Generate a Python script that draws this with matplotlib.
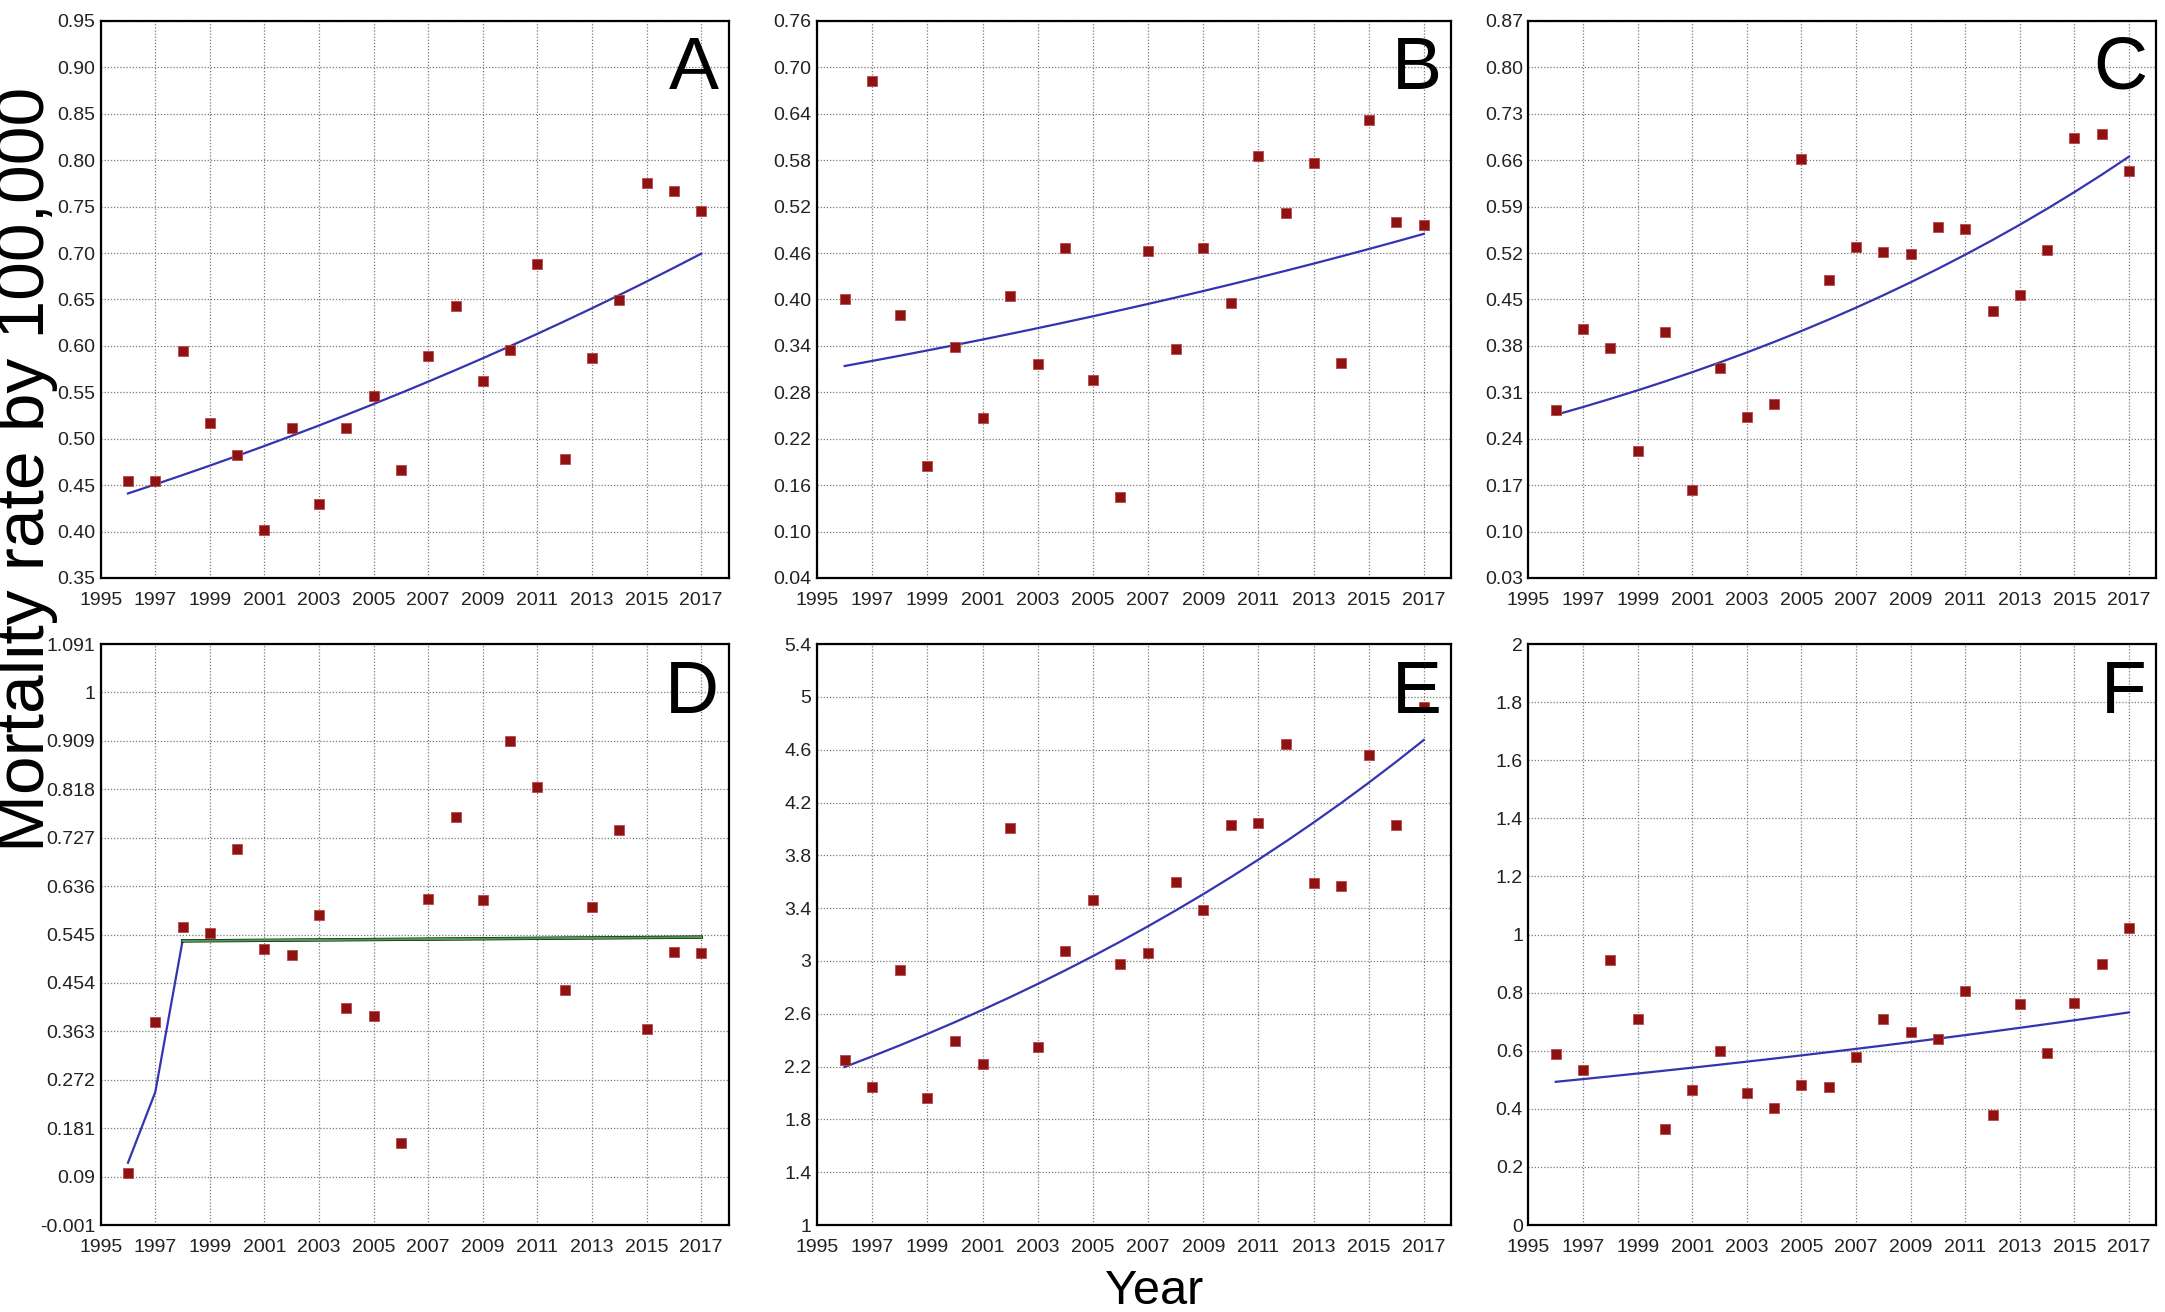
import numpy as np
import matplotlib
matplotlib.use("Agg")
import matplotlib.pyplot as plt

years = np.arange(1996, 2018)
xtick_years = list(range(1995, 2018, 2))

rate_A = [0.454, 0.454, 0.594, 0.517, 0.482, 0.402, 0.512, 0.430, 0.512, 0.546, 0.466,
          0.589, 0.643, 0.562, 0.596, 0.688, 0.478, 0.587, 0.649, 0.776, 0.767, 0.745]
rate_B = [0.400, 0.682, 0.380, 0.185, 0.338, 0.247, 0.405, 0.317, 0.466, 0.296, 0.144,
          0.463, 0.336, 0.466, 0.395, 0.585, 0.512, 0.577, 0.318, 0.632, 0.500, 0.496]
rate_C = [0.283, 0.406, 0.377, 0.222, 0.401, 0.162, 0.346, 0.273, 0.293, 0.662, 0.479,
          0.529, 0.522, 0.519, 0.560, 0.556, 0.433, 0.457, 0.524, 0.693, 0.700, 0.644]
rate_D = [0.097, 0.381, 0.560, 0.548, 0.705, 0.517, 0.507, 0.581, 0.407, 0.391, 0.153,
          0.612, 0.766, 0.610, 0.909, 0.822, 0.441, 0.596, 0.742, 0.368, 0.513, 0.510]
rate_E = [2.247, 2.049, 2.934, 1.959, 2.395, 2.216, 4.004, 2.352, 3.076, 3.460, 2.974,
          3.058, 3.599, 3.389, 4.026, 4.048, 4.645, 3.593, 3.565, 4.558, 4.026, 4.923]
rate_F = [0.590, 0.534, 0.911, 0.710, 0.330, 0.465, 0.599, 0.454, 0.403, 0.481, 0.475,
          0.579, 0.710, 0.665, 0.641, 0.805, 0.379, 0.760, 0.593, 0.766, 0.897, 1.023]

# joinpoint segments: (first year, last year, fitted value at first year, APC %)
seg_A = [(1996, 2017, 0.441, 2.22)]
seg_B = [(1996, 2017, 0.314, 2.09)]
seg_C = [(1996, 2017, 0.276, 4.28)]
seg_D = [(1996, 1998, 0.116, 114.4), (1998, 2017, 0.533, 0.07)]
seg_E = [(1996, 2017, 2.197, 3.66)]
seg_F = [(1996, 2017, 0.493, 1.90)]

yticks_A = ["0.35", "0.40", "0.45", "0.50", "0.55", "0.60", "0.65", "0.70", "0.75", "0.80", "0.85", "0.90", "0.95"]
yticks_B = ["0.04", "0.10", "0.16", "0.22", "0.28", "0.34", "0.40", "0.46", "0.52", "0.58", "0.64", "0.70", "0.76"]
yticks_C = ["0.03", "0.10", "0.17", "0.24", "0.31", "0.38", "0.45", "0.52", "0.59", "0.66", "0.73", "0.80", "0.87"]
yticks_D = ["-0.001", "0.09", "0.181", "0.272", "0.363", "0.454", "0.545", "0.636", "0.727", "0.818", "0.909", "1", "1.091"]
yticks_E = ["1", "1.4", "1.8", "2.2", "2.6", "3", "3.4", "3.8", "4.2", "4.6", "5", "5.4"]
yticks_F = ["0", "0.2", "0.4", "0.6", "0.8", "1", "1.2", "1.4", "1.6", "1.8", "2"]

panels = [
    ("A", rate_A, seg_A, yticks_A),
    ("B", rate_B, seg_B, yticks_B),
    ("C", rate_C, seg_C, yticks_C),
    ("D", rate_D, seg_D, yticks_D),
    ("E", rate_E, seg_E, yticks_E),
    ("F", rate_F, seg_F, yticks_F),
]

narrow = ["Liberation Sans Narrow", "Liberation Sans", "DejaVu Sans"]
sans = ["Liberation Sans", "DejaVu Sans"]

fig = plt.figure(figsize=(21.65, 13.12), dpi=100)

lefts = [0.0465, 0.3774, 0.7060]
widths = [0.290, 0.293, 0.290]
bottoms = [0.5595, 0.0663]
heights = [0.4245, 0.4428]

for i, (letter, rate, segs, ylabels) in enumerate(panels):
    row, col = divmod(i, 3)
    ax = fig.add_axes([lefts[col], bottoms[row], widths[col], heights[row]])

    ypos = [float(s) for s in ylabels]
    ax.set_xlim(1995, 2018)
    ax.set_ylim(ypos[0], ypos[-1])
    ax.set_xticks(xtick_years)
    ax.set_xticklabels([str(y) for y in xtick_years], family=narrow, fontsize=14, color="#222222")
    ax.set_yticks(ypos)
    ax.set_yticklabels(ylabels, family=narrow, fontsize=14, color="#222222")
    ax.tick_params(axis="both", length=0)
    ax.tick_params(axis="x", pad=10)
    ax.tick_params(axis="y", pad=4)
    ax.grid(True, color="#7a7a7a", linestyle=(0, (1, 1.5)), linewidth=0.9)
    ax.set_axisbelow(True)
    for sp in ax.spines.values():
        sp.set_linewidth(1.6)
        sp.set_color("black")

    # fitted trend, one point per year
    for k, (y0, y1, v0, apc) in enumerate(segs):
        yrs = np.arange(y0, y1 + 1)
        fit = v0 * (1 + apc / 100.0) ** (yrs - y0)
        if letter == "D" and k == 1:
            ax.plot(yrs, fit, color="black", linewidth=2.4, zorder=3)
            ax.plot(yrs, fit, color="#4a9e4a", linewidth=1.6, zorder=4)
        else:
            ax.plot(yrs, fit, color="#3434b0", linewidth=1.6, zorder=3)

    ax.plot(years, rate, linestyle="none", marker="s", markersize=7.5,
            markerfacecolor="#8e1212", markeredgecolor="#b84848", markeredgewidth=0.6, zorder=5)

    ax.text(0.985, 0.975, letter, transform=ax.transAxes, ha="right", va="top",
            fontsize=54, family=sans, color="black", zorder=6)

fig.text(0.012, 0.642, "Mortality rate by 100,000", rotation=90, ha="center", va="center",
         fontsize=50, family=sans, color="black")
fig.text(0.533, 0.016, "Year", ha="center", va="center", fontsize=35, family=sans, color="black")

fig.savefig("out.png", dpi=100)
